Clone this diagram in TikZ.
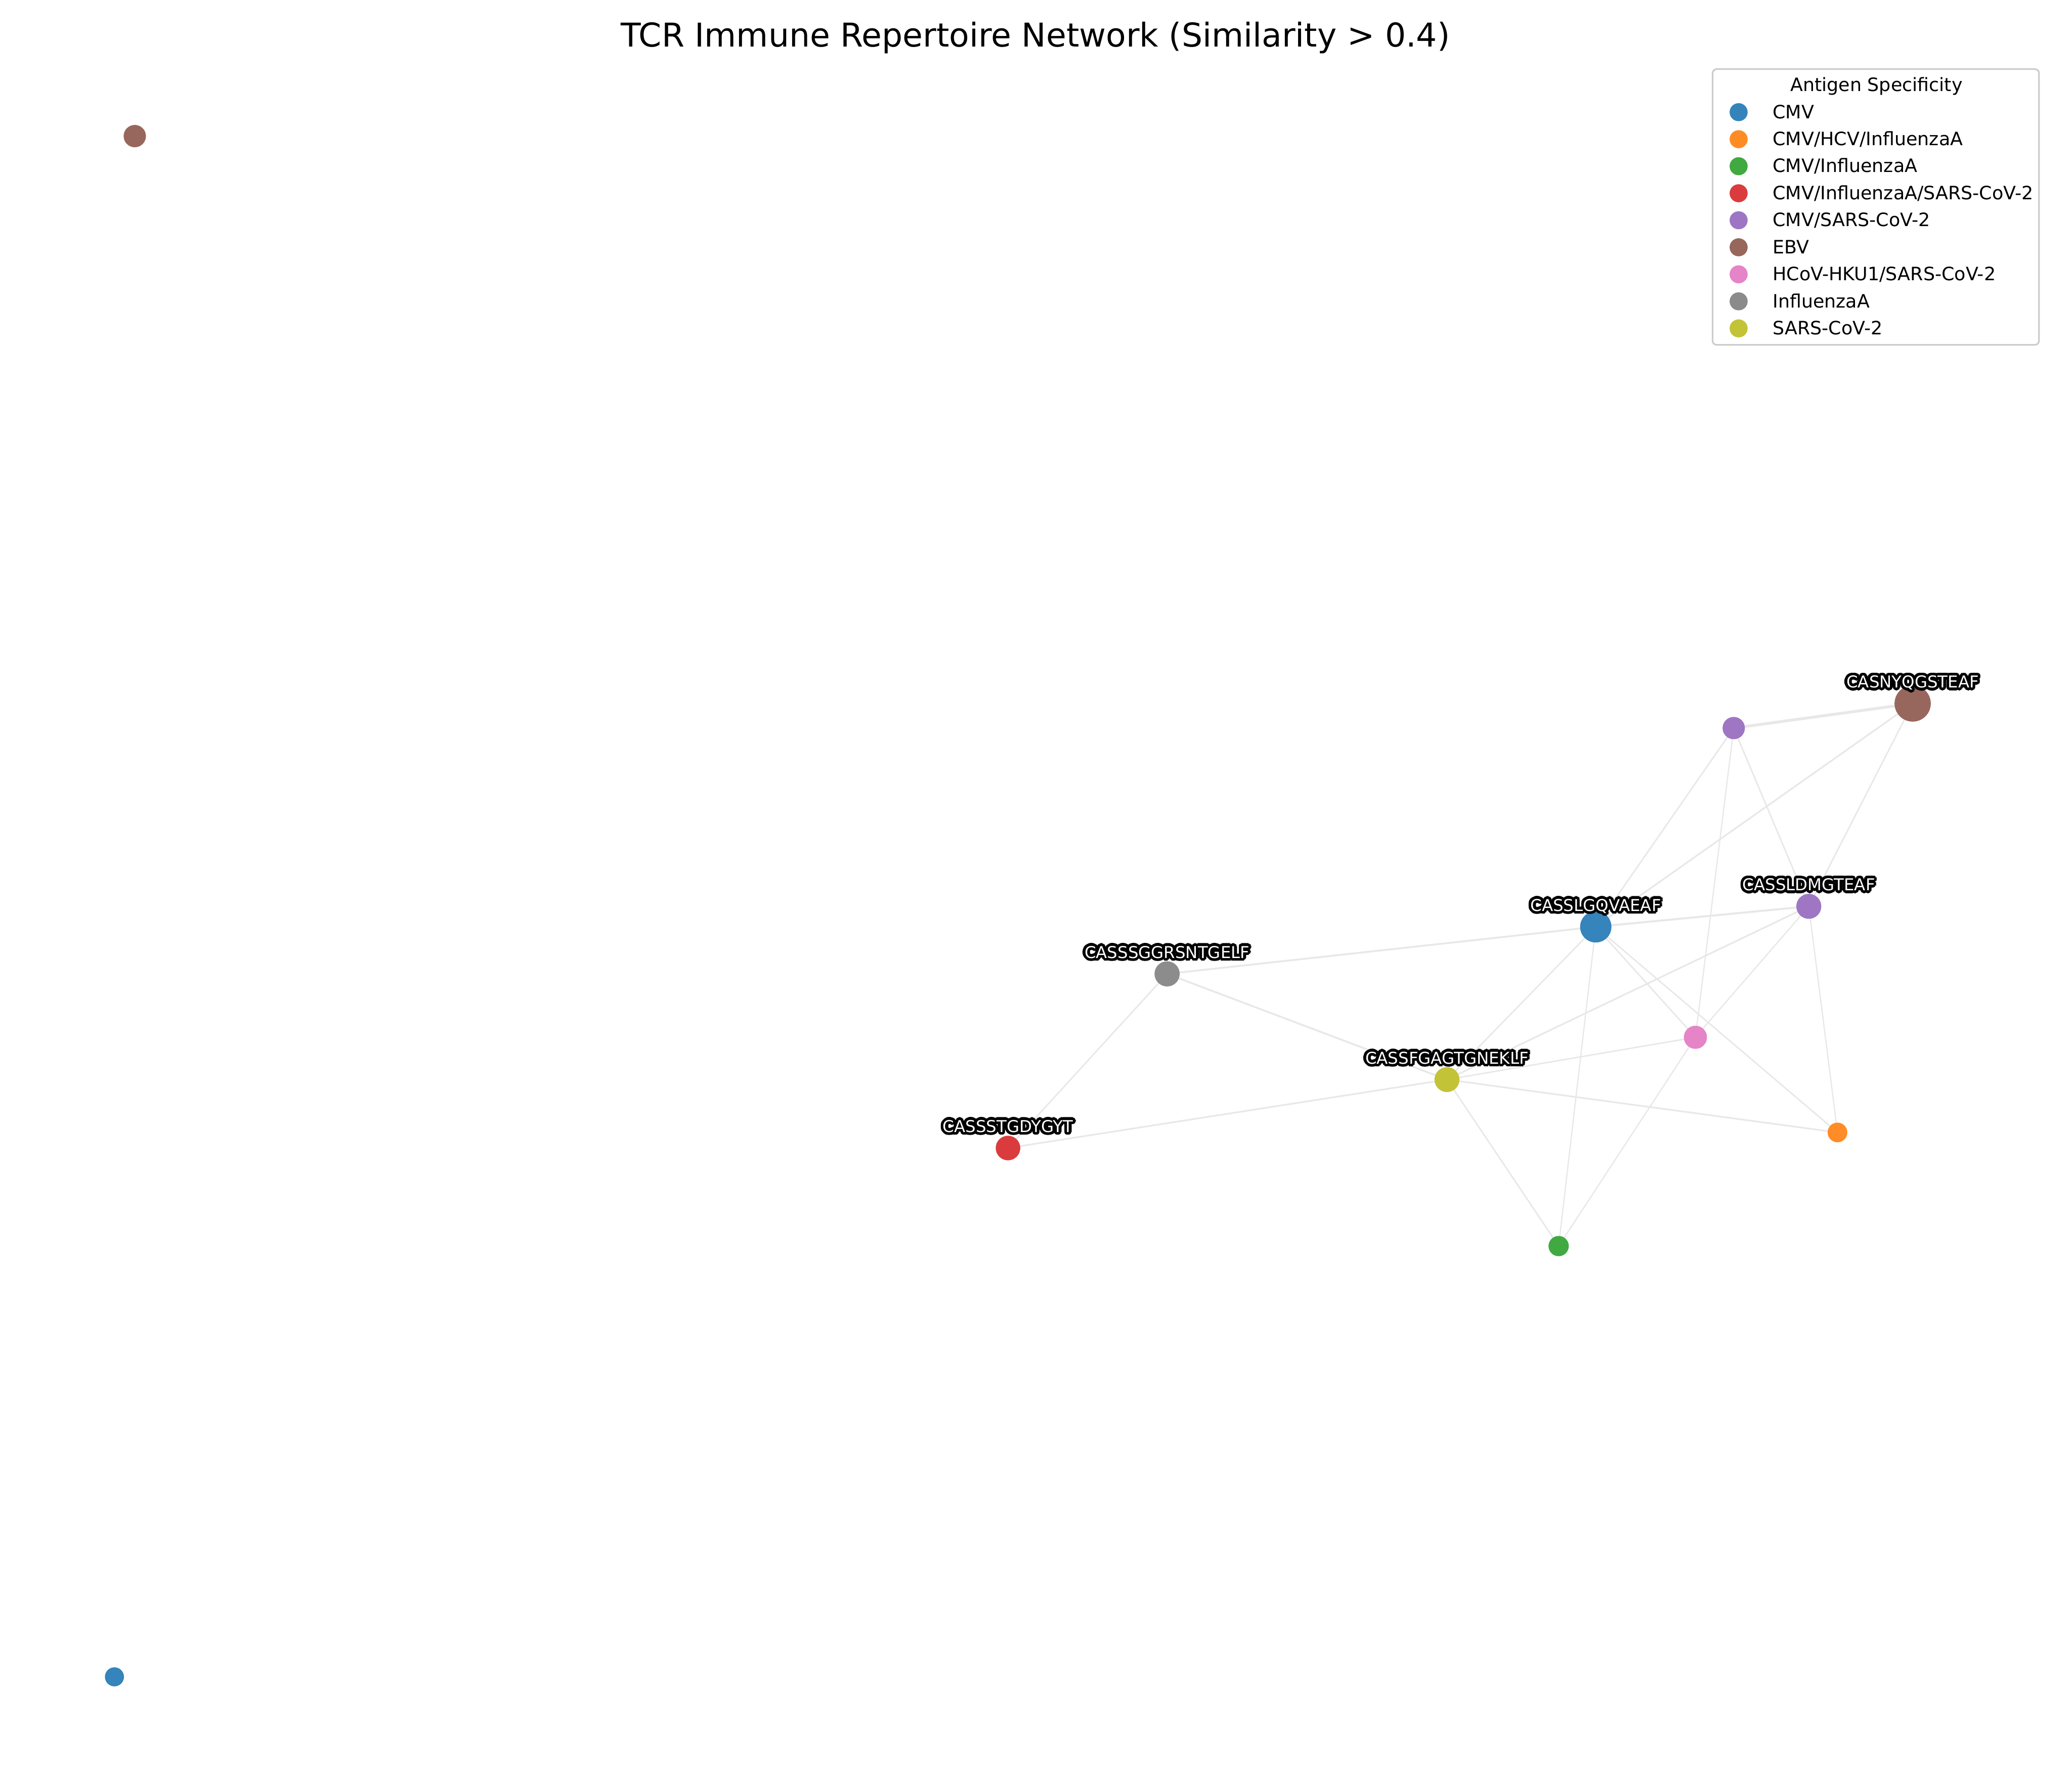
\documentclass[tikz,border=0pt]{standalone}
\usepackage{fontspec}
\setmainfont{DejaVu Sans}
\usetikzlibrary{backgrounds}

% Colores por especificidad (tab10)
\definecolor{tabblue}{HTML}{1F77B4}
\definecolor{taborange}{HTML}{FF7F0E}
\definecolor{tabgreen}{HTML}{2CA02C}
\definecolor{tabred}{HTML}{D62728}
\definecolor{tabpurple}{HTML}{9467BD}
\definecolor{tabbrown}{HTML}{8C564B}
\definecolor{tabpink}{HTML}{E377C2}
\definecolor{tabgray}{HTML}{7F7F7F}
\definecolor{tabolive}{HTML}{BCBD22}

% Etiqueta blanca con contorno negro encima de un nodo
\newcommand{\seqlabel}[3]{%
  \foreach \rad in {0.7pt,1.35pt}
    \foreach \ang in {0,22.5,...,337.5}
      \node[seqtext, text=black, shift={(\ang:\rad)}] at (#2.center) {#3};
  \node[seqtext, text=white] (#1) at (#2.center) {#3};
}

\begin{document}
\begin{tikzpicture}[x=0.022678cm, y=-0.022678cm,
    tcr/.style={circle, inner sep=0pt, fill opacity=0.9, minimum size=#1},
    seqtext/.style={font=\fontsize{8}{9.6}\selectfont, inner sep=0pt, anchor=base, yshift=7.7pt},
    simil/.style={draw=black!9, line width=#1, line cap=round}]
        \useasboundingbox (0,0) rectangle (1568,1344);

        % Titulo
        \node[font=\fontsize{16}{19}\selectfont, anchor=base] (titulo) at (783.5,35.5) {TCR Immune Repertoire Network (Similarity > 0.4)};

        % Nodos aislados
        \node[tcr=10.9pt, fill=tabbrown] (ebv0) at (102,103) {};
        \node[tcr=9.3pt, fill=tabblue] (cmv0) at (86.6,1269) {};

        % Nodos de la red principal
        \node[tcr=17.7pt, fill=tabbrown] (nyq) at (1447.4,532.4) {};
        \node[tcr=10.9pt, fill=tabpurple] (csv0) at (1312,551) {};
        \node[tcr=12.2pt, fill=tabpurple] (ldm) at (1368.8,685.9) {};
        \node[tcr=15.3pt, fill=tabblue] (lgq) at (1207.6,701.4) {};
        \node[tcr=12.3pt, fill=tabgray] (sgg) at (883.2,737) {};
        \node[tcr=11.3pt, fill=tabpink] (hku) at (1283,785) {};
        \node[tcr=12.2pt, fill=tabolive] (fga) at (1095,817) {};
        \node[tcr=9.6pt, fill=taborange] (hcv) at (1390.5,857) {};
        \node[tcr=12pt, fill=tabred] (stg) at (762.8,868.8) {};
        \node[tcr=9.9pt, fill=tabgreen] (flu) at (1179.5,943) {};

        % Aristas de similitud
        \begin{scope}[on background layer]
            \draw[simil=1.4pt] (csv0) -- (nyq);
            \draw[simil=1.0pt] (lgq) -- (ldm);
            \draw[simil=0.9pt] (lgq) -- (sgg);
            \draw[simil=0.9pt] (sgg) -- (fga);
            \draw[simil=0.7pt] (csv0) -- (lgq);
            \draw[simil=0.6pt] (csv0) -- (hku);
            \draw[simil=0.7pt] (csv0) -- (ldm);
            \draw[simil=0.8pt] (nyq) -- (lgq);
            \draw[simil=0.7pt] (nyq) -- (ldm);
            \draw[simil=0.7pt] (lgq) -- (fga);
            \draw[simil=0.6pt] (lgq) -- (flu);
            \draw[simil=0.7pt] (lgq) -- (hku);
            \draw[simil=0.7pt] (lgq) -- (hcv);
            \draw[simil=0.8pt] (ldm) -- (fga);
            \draw[simil=0.6pt] (ldm) -- (hku);
            \draw[simil=0.6pt] (ldm) -- (hcv);
            \draw[simil=0.7pt] (sgg) -- (stg);
            \draw[simil=0.8pt] (fga) -- (stg);
            \draw[simil=0.7pt] (fga) -- (hku);
            \draw[simil=0.8pt] (fga) -- (hcv);
            \draw[simil=0.7pt] (fga) -- (flu);
            \draw[simil=0.6pt] (hku) -- (flu);
        \end{scope}

        % Etiquetas de secuencias CDR3
        \seqlabel{nyq-l}{nyq}{CASNYQGSTEAF}
        \seqlabel{ldm-l}{ldm}{CASSLDMGTEAF}
        \seqlabel{lgq-l}{lgq}{CASSLGQVAEAF}
        \seqlabel{sgg-l}{sgg}{CASSSGGRSNTGELF}
        \seqlabel{fga-l}{fga}{CASSFGAGTGNEKLF}
        \seqlabel{stg-l}{stg}{CASSSTGDYGYT}

        % Leyenda
        \draw[draw=black!20, fill=white, line width=0.8pt, rounded corners=2pt] (1296,52.3) rectangle (1543,261);
        \node[font=\fontsize{9}{11}\selectfont, anchor=base] (lgtit) at (1420,69.1) {Antigen Specificity};
        \foreach \col/\txt [count=\i from 0] in {tabblue/CMV, taborange/{CMV/HCV/InfluenzaA}, tabgreen/{CMV/InfluenzaA},
            tabred/{CMV/InfluenzaA/SARS-CoV-2}, tabpurple/{CMV/SARS-CoV-2}, tabbrown/EBV,
            tabpink/{HCoV-HKU1/SARS-CoV-2}, tabgray/InfluenzaA, tabolive/SARS-CoV-2} {
            \node[tcr=8.8pt, fill=\col] (lgm\i) at (1315.7,84.9+20.45*\i) {};
            \node[font=\fontsize{9}{11}\selectfont, anchor=base west, inner sep=0pt] (lgt\i) at (1341.2,89.6+20.45*\i) {\txt};
        }
    \end{tikzpicture}
\end{document}
